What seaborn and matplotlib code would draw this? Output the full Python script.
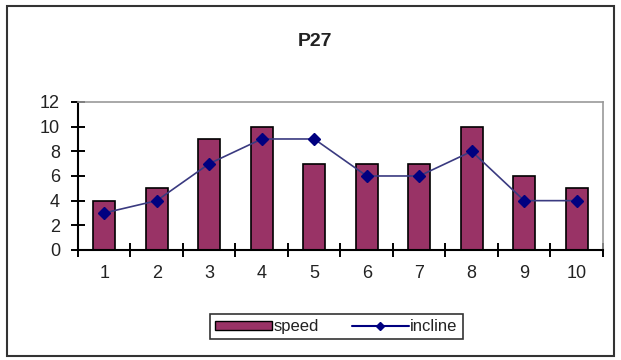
import numpy as np
import matplotlib
matplotlib.use("Agg")
import matplotlib.pyplot as plt
import seaborn as sns
from matplotlib.patches import Rectangle
from matplotlib.lines import Line2D

categories = ['1', '2', '3', '4', '5', '6', '7', '8', '9', '10']
speed = [4, 5, 9, 10, 7, 7, 7, 10, 6, 5]
incline = [3, 4, 7, 9, 9, 6, 6, 8, 4, 4]
y_ticks = [0, 2, 4, 6, 8, 10, 12]

sns.set_style('white', {'xtick.bottom': True, 'ytick.left': True})
plt.rcParams['font.family'] = ['Liberation Sans', 'DejaVu Sans']

fig = plt.figure(figsize=(6.21, 3.6), dpi=100)
ax = fig.add_axes([0.1256, 0.3056, 0.8454, 0.4111])

# bars
sns.barplot(x=categories, y=speed, color='#993366', saturation=1,
            width=0.42, edgecolor='black', linewidth=1.2, ax=ax)

# line with diamonds
pos = np.arange(len(categories))
ax.plot(pos, incline, color='#3a3a80', linewidth=1.2,
        marker='D', markersize=6, markerfacecolor='#000080',
        markeredgecolor='#000080', zorder=5)

ax.set_xlim(-0.5, len(categories) - 0.5)
ax.set_ylim(0, 12)
ax.set_yticks(y_ticks)
ax.set_yticklabels([str(v) for v in y_ticks], fontsize=13, color='#222222')

# ticks between categories, labels at centres
ax.set_xticks(np.arange(-0.5, len(categories), 1.0))
ax.set_xticklabels([])
ax.set_xticks(pos, minor=True)
ax.set_xticklabels(categories, minor=True, fontsize=13, color='#222222')
ax.tick_params(axis='x', which='major', direction='inout', length=10,
               width=1.4, color='black', bottom=True)
ax.tick_params(axis='x', which='minor', length=0, pad=11, bottom=True)
ax.tick_params(axis='y', direction='inout', length=10, width=1.4,
               color='black', pad=8, left=True)
ax.set_xlabel('')
ax.set_ylabel('')

for s in ['left', 'bottom']:
    ax.spines[s].set_color('black')
    ax.spines[s].set_linewidth(1.5)
for s in ['top', 'right']:
    ax.spines[s].set_color('#999999')
    ax.spines[s].set_linewidth(1.2)

fig.text(0.507, 0.885, 'P27', ha='center', va='center',
         fontsize=14, fontweight='bold', color='#222222')

handles = [Rectangle((0, 0), 1, 1, facecolor='#993366', edgecolor='black'),
           Line2D([], [], color='#000080', marker='D', markersize=4)]
leg = fig.legend(handles, ['speed', 'incline'], loc='center',
                 bbox_to_anchor=(0.5415, 0.092), ncol=2, frameon=True,
                 fancybox=False, fontsize=12, handlelength=3.4,
                 handleheight=0.5, handletextpad=0.1, columnspacing=2.0,
                 borderpad=0.3, borderaxespad=0)
for t in leg.get_texts():
    t.set_color('#222222')
leg.get_frame().set_edgecolor('black')
leg.get_frame().set_linewidth(1.2)

# outer border
fig.patches.append(Rectangle((0.012, 0.012), 0.976, 0.972,
                             transform=fig.transFigure, fill=False,
                             edgecolor='#333333', linewidth=1.5))

fig.savefig('out.png', dpi=100)
plt.close()
